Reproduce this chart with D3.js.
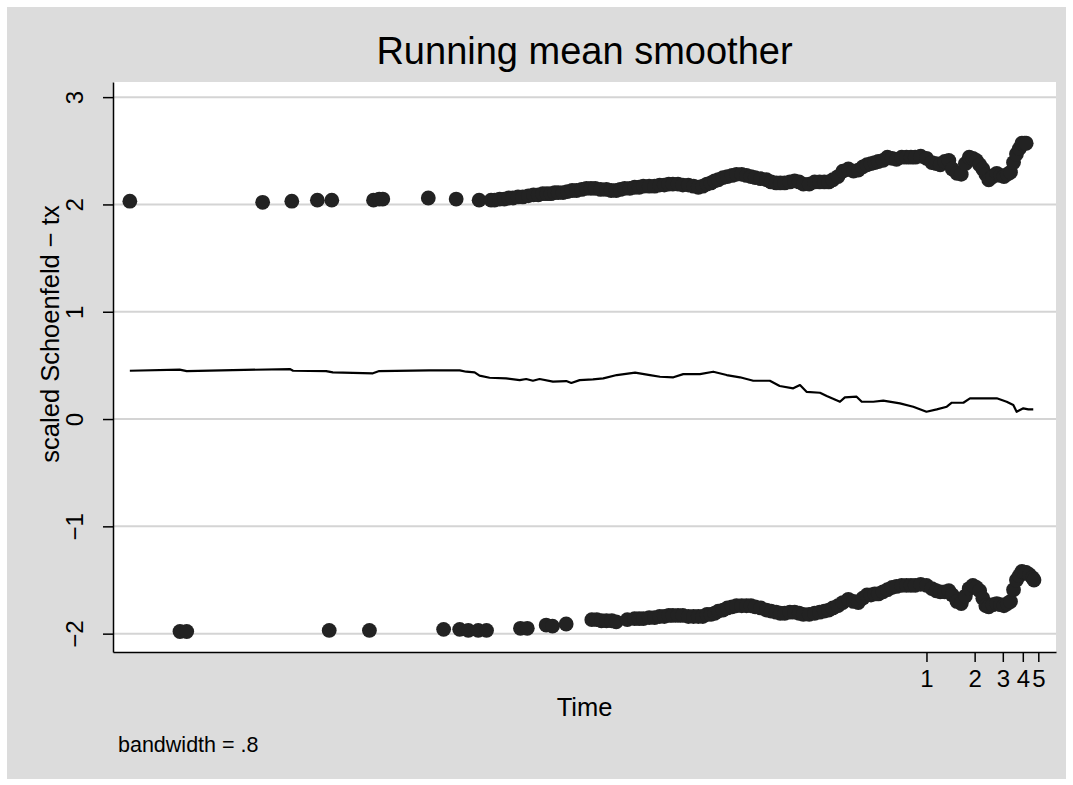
<!DOCTYPE html>
<html>
<head>
<meta charset="utf-8">
<script src="https://cdn.jsdelivr.net/npm/d3@7"></script>
<style>
body { margin: 0; background: #fff; }
text { font-family: "Liberation Sans", Arial, Helvetica, sans-serif; fill: #000; }
</style>
</head>
<body>
<div id="chart"></div>
<script>
// scaled Schoenfeld residuals, upper band
const topTime = [1.05e-5, 7.1e-5, 1.08e-4, 1.56e-4, 1.92e-4, 3.5e-4, 3.8e-4, 4.0e-4, 7.7e-4, 1.15e-3, 1.6e-3,
    1.9e-3, 2.0e-3, 2.15e-3, 2.3e-3, 2.45e-3, 2.6e-3, 2.8e-3, 3.0e-3, 3.25e-3, 3.5e-3, 3.75e-3, 4.0e-3, 4.25e-3,
    4.5e-3, 4.75e-3, 5.0e-3, 5.35e-3, 5.7e-3, 6.1e-3, 6.5e-3, 7.0e-3, 7.5e-3, 8.0e-3, 8.5e-3, 9.2e-3,
    0.010, 0.0107, 0.0115, 0.0122, 0.013, 0.014, 0.015, 0.016, 0.017, 0.0185, 0.020, 0.0215, 0.023, 0.0245, 0.026, 0.028, 0.030,
    0.0325, 0.035, 0.0375, 0.040, 0.0425, 0.045, 0.0475, 0.050, 0.0535, 0.057, 0.061, 0.065, 0.070, 0.075, 0.080, 0.085, 0.092,
    0.10, 0.107, 0.115, 0.122, 0.13, 0.14, 0.15, 0.16, 0.17, 0.185, 0.20, 0.215, 0.23, 0.245, 0.26, 0.28, 0.30,
    0.325, 0.35, 0.375, 0.40, 0.425, 0.45, 0.475, 0.50, 0.535, 0.57, 0.61, 0.65, 0.70, 0.75, 0.80, 0.85, 0.92,
    1.0, 1.08, 1.15, 1.22, 1.30, 1.38, 1.45, 1.55, 1.65, 1.75, 1.85, 1.95, 2.05, 2.15, 2.25, 2.35, 2.45,
    2.6, 2.75, 2.9, 3.05, 3.2, 3.35, 3.5, 3.65, 3.8, 3.95, 4.1, 4.2];
const topResid = [2.03, 2.02, 2.03, 2.04, 2.04, 2.04, 2.05, 2.05, 2.06, 2.05, 2.04,
    2.04, 2.04, 2.05, 2.05, 2.06, 2.06, 2.07, 2.07, 2.08, 2.09, 2.09, 2.10, 2.10,
    2.10, 2.11, 2.11, 2.11, 2.12, 2.13, 2.13, 2.14, 2.15, 2.15, 2.15, 2.14,
    2.14, 2.13, 2.13, 2.14, 2.15, 2.15, 2.16, 2.16, 2.17, 2.17, 2.17, 2.18, 2.18, 2.19, 2.19, 2.19, 2.18,
    2.18, 2.17, 2.16, 2.17, 2.19, 2.20, 2.22, 2.23, 2.25, 2.26, 2.27, 2.28, 2.28, 2.27, 2.26, 2.25, 2.24,
    2.23, 2.21, 2.20, 2.20, 2.20, 2.21, 2.22, 2.21, 2.19, 2.19, 2.21, 2.21, 2.21, 2.21, 2.23, 2.26, 2.31,
    2.33, 2.31, 2.32, 2.35, 2.37, 2.38, 2.39, 2.40, 2.41, 2.44, 2.43, 2.42, 2.44, 2.44, 2.44, 2.44, 2.45,
    2.43, 2.39, 2.38, 2.37, 2.40, 2.41, 2.33, 2.29, 2.28, 2.38, 2.44, 2.43, 2.41, 2.37, 2.33, 2.28, 2.23,
    2.26, 2.29, 2.27, 2.26, 2.28, 2.30, 2.39, 2.47, 2.52, 2.57, 2.57, 2.57];

// lower band
const botTime = [2.16e-5, 2.38e-5, 1.85e-4, 3.3e-4, 9.6e-4, 1.21e-3, 1.37e-3, 1.58e-3, 1.78e-3, 2.9e-3, 3.2e-3, 4.2e-3, 4.6e-3, 5.6e-3,
    8.1e-3, 8.7e-3, 9.3e-3,
    0.0100, 0.0108, 0.0115, 0.0135, 0.015, 0.016, 0.017, 0.0185, 0.020, 0.0215, 0.023, 0.0245, 0.026, 0.028, 0.030, 0.0325,
    0.035, 0.0375, 0.040, 0.0425, 0.045, 0.0475, 0.050, 0.0535, 0.057, 0.061, 0.065, 0.070, 0.075, 0.080, 0.085, 0.092,
    0.10, 0.107, 0.115, 0.122, 0.13, 0.14, 0.15, 0.16, 0.17, 0.185, 0.20, 0.215, 0.23, 0.245, 0.26, 0.28, 0.30,
    0.325, 0.35, 0.375, 0.40, 0.425, 0.45, 0.475, 0.50, 0.535, 0.57, 0.61, 0.65, 0.70, 0.75, 0.80, 0.85, 0.92,
    1.0, 1.08, 1.15, 1.22, 1.30, 1.38, 1.45, 1.55, 1.65, 1.75, 1.85, 1.95, 2.05, 2.15, 2.25, 2.35, 2.45,
    2.6, 2.75, 2.9, 3.05, 3.2, 3.35, 3.5, 3.65, 3.8, 3.95, 4.1, 4.2, 4.4, 4.6, 4.7];
const botResid = [-1.98, -1.98, -1.97, -1.97, -1.96, -1.96, -1.97, -1.97, -1.97, -1.95, -1.95, -1.92, -1.93, -1.91,
    -1.87, -1.87, -1.88,
    -1.88, -1.88, -1.89, -1.87, -1.86, -1.86, -1.86, -1.85, -1.85, -1.84, -1.84, -1.83, -1.83, -1.83, -1.83, -1.84,
    -1.84, -1.84, -1.84, -1.82, -1.82, -1.81, -1.79, -1.78, -1.76, -1.75, -1.74, -1.74, -1.74, -1.74, -1.75, -1.76,
    -1.78, -1.79, -1.80, -1.81, -1.81, -1.80, -1.80, -1.81, -1.82, -1.82, -1.81, -1.80, -1.79, -1.78, -1.76, -1.74, -1.71,
    -1.68, -1.70, -1.71, -1.67, -1.64, -1.64, -1.63, -1.63, -1.61, -1.59, -1.57, -1.56, -1.55, -1.55, -1.55, -1.55, -1.54,
    -1.55, -1.58, -1.60, -1.61, -1.61, -1.60, -1.64, -1.70, -1.72, -1.65, -1.58, -1.55, -1.57, -1.60, -1.67, -1.74, -1.75,
    -1.73, -1.72, -1.73, -1.74, -1.72, -1.70, -1.59, -1.50, -1.46, -1.42, -1.43, -1.43, -1.45, -1.48, -1.50];

// running mean smoother
const smoothTime = [1.05e-5, 2.15e-5, 2.38e-5, 1.05e-4, 1.1e-4, 1.77e-4, 1.95e-4, 3.47e-4, 3.8e-4, 7.8e-4,
    1.21e-3, 1.33e-3, 1.5e-3, 1.61e-3, 1.86e-3, 2.36e-3, 2.87e-3, 3.15e-3, 3.47e-3, 3.82e-3,
    4.63e-3, 5.61e-3, 6.03e-3, 6.8e-3, 8.23e-3, 9.55e-3, 0.0116, 0.0151, 0.0187, 0.0216,
    0.0262, 0.0302, 0.0384, 0.0465, 0.0564, 0.0683, 0.0827, 0.105, 0.121, 0.147,
    0.162, 0.178, 0.216, 0.238, 0.288, 0.309, 0.366, 0.394, 0.465, 0.537,
    0.683, 0.827, 1.0, 1.16, 1.34, 1.44, 1.70, 1.87, 2.26, 2.75,
    3.17, 3.49, 3.66, 4.03, 4.33, 4.65];
const smoothValue = [0.45, 0.46, 0.447, 0.466, 0.45, 0.447, 0.435, 0.426, 0.447, 0.454,
    0.454, 0.441, 0.435, 0.404, 0.385, 0.379, 0.363, 0.373, 0.357, 0.373,
    0.348, 0.354, 0.336, 0.363, 0.37, 0.379, 0.41, 0.432, 0.41, 0.394,
    0.389, 0.419, 0.419, 0.441, 0.41, 0.389, 0.357, 0.357, 0.308, 0.286,
    0.317, 0.254, 0.245, 0.214, 0.161, 0.202, 0.208, 0.161, 0.161, 0.171,
    0.146, 0.115, 0.068, 0.09, 0.115, 0.152, 0.152, 0.193, 0.193, 0.193,
    0.161, 0.13, 0.068, 0.10, 0.09, 0.09];

const yTicks = [-2, -1, 0, 1, 2, 3];
const xTicks = [1, 2, 3, 4, 5];

const w = 1073;
const h = 785;
const plotLeft = 113, plotRight = 1056, plotTop = 82, plotBottom = 652;

const svg = d3.select("#chart")
    .append("svg")
    .attr("width", w)
    .attr("height", h);

svg.append("rect")
    .attr("x", 7).attr("y", 7)
    .attr("width", 1059).attr("height", 772)
    .attr("fill", "#dcdcdc");

svg.append("rect")
    .attr("x", plotLeft).attr("y", plotTop)
    .attr("width", plotRight - plotLeft).attr("height", plotBottom - plotTop)
    .attr("fill", "#fff");

const xScale = d3.scaleLog()
    .domain([8.24e-6, 6.45])
    .range([plotLeft, plotRight]);

const yScale = d3.scaleLinear()
    .domain([-2.171, 3.141])
    .range([plotBottom, plotTop]);

// grid lines
svg.append("g")
    .selectAll("line")
    .data(yTicks)
    .join("line")
    .attr("x1", plotLeft)
    .attr("x2", plotRight)
    .attr("y1", (d) => yScale(d))
    .attr("y2", (d) => yScale(d))
    .attr("stroke", "#d4d4d4")
    .attr("stroke-width", 2);

const line = d3.line()
    .x((d) => xScale(d[0]))
    .y((d) => yScale(d[1]));

svg.append("path")
    .datum(smoothTime.map((t, i) => [t, smoothValue[i]]))
    .attr("d", line)
    .attr("fill", "none")
    .attr("stroke", "#000")
    .attr("stroke-width", 2.2)
    .attr("stroke-linejoin", "round");

const pts = topTime.map((t, i) => [t, topResid[i]])
    .concat(botTime.map((t, i) => [t, botResid[i]]));

svg.append("g")
    .selectAll("circle")
    .data(pts)
    .join("circle")
    .attr("cx", (d) => xScale(d[0]))
    .attr("cy", (d) => yScale(d[1]))
    .attr("r", 7.4)
    .attr("fill", "#222");

const yAxis = d3.axisLeft(yScale)
    .tickValues(yTicks)
    .tickSize(10)
    .tickSizeOuter(0)
    .tickFormat((d) => d < 0 ? "\u2212" + Math.abs(d) : d);

const gy = svg.append("g")
    .attr("transform", "translate(" + plotLeft + ",0)")
    .call(yAxis);
gy.attr("font-family", null).attr("font-size", null);
gy.selectAll("path, line").attr("stroke", "#000").attr("stroke-width", 1.5);
gy.selectAll(".tick text")
    .attr("x", null)
    .attr("dy", null)
    .attr("text-anchor", "middle")
    .attr("transform", "translate(-30,0) rotate(-90)")
    .style("font-size", "24px");

const xAxis = d3.axisBottom(xScale)
    .tickValues(xTicks)
    .tickSize(10)
    .tickSizeOuter(0)
    .tickFormat(d3.format("d"));

const gx = svg.append("g")
    .attr("transform", "translate(0," + plotBottom + ")")
    .call(xAxis);
gx.attr("font-family", null).attr("font-size", null);
gx.selectAll("path, line").attr("stroke", "#000").attr("stroke-width", 1.5);
gx.selectAll(".tick text")
    .attr("y", 35)
    .attr("dy", null)
    .style("font-size", "24px");

svg.append("text")
    .attr("x", (plotLeft + plotRight) / 2)
    .attr("y", 64)
    .attr("text-anchor", "middle")
    .style("font-size", "38px")
    .text("Running mean smoother");

svg.append("text")
    .attr("transform", "translate(59,334) rotate(-90)")
    .attr("text-anchor", "middle")
    .style("font-size", "25.5px")
    .text("scaled Schoenfeld \u2212 tx");

svg.append("text")
    .attr("x", (plotLeft + plotRight) / 2)
    .attr("y", 716)
    .attr("text-anchor", "middle")
    .style("font-size", "25.5px")
    .text("Time");

svg.append("text")
    .attr("x", 118)
    .attr("y", 752)
    .style("font-size", "21.5px")
    .text("bandwidth = .8");
</script>
</body>
</html>
